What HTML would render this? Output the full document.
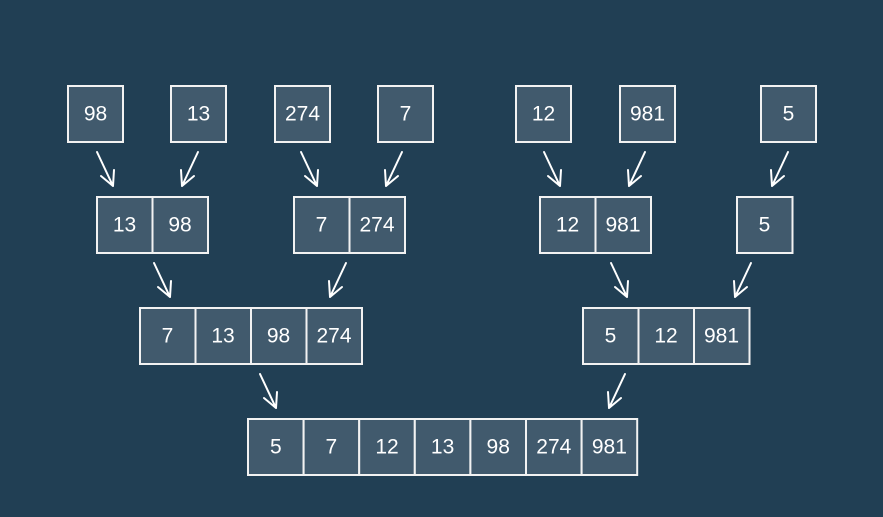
<!DOCTYPE html>
<html><head><meta charset="utf-8"><style>
html,body{margin:0;padding:0;background:#213f54;}
svg{display:block}
text{font-family:"Liberation Sans",sans-serif;font-size:21px;fill:#fff;text-anchor:middle;dominant-baseline:central}
rect{fill:#415a6d;stroke:#f2f2f2;stroke-width:2}
.a{stroke:#fff;stroke-width:2;fill:none;stroke-linecap:round;stroke-linejoin:round}
</style></head><body>
<svg width="883" height="517" viewBox="0 0 883 517" xmlns="http://www.w3.org/2000/svg">
<rect x="0" y="0" width="883" height="517" style="fill:#213f54;stroke:none"/>
<!-- level 1 -->
<g>
<rect x="68" y="86" width="55" height="56"/><text x="95.5" y="114">98</text>
<rect x="171" y="86" width="55" height="56"/><text x="198.5" y="114">13</text>
<rect x="275" y="86" width="55" height="56"/><text x="302.5" y="114">274</text>
<rect x="378" y="86" width="55" height="56"/><text x="405.5" y="114">7</text>
<rect x="516" y="86" width="55" height="56"/><text x="543.5" y="114">12</text>
<rect x="620" y="86" width="55" height="56"/><text x="647.5" y="114">981</text>
<rect x="761" y="86" width="55" height="56"/><text x="788.5" y="114">5</text>
</g>
<!-- level 2 -->
<g>
<rect x="97" y="197" width="55.5" height="56"/><text x="124.5" y="225">13</text>
<rect x="152.5" y="197" width="55.5" height="56"/><text x="180" y="225">98</text>
<rect x="294" y="197" width="55.5" height="56"/><text x="321.5" y="225">7</text>
<rect x="349.5" y="197" width="55.5" height="56"/><text x="377" y="225">274</text>
<rect x="540" y="197" width="55.5" height="56"/><text x="567.5" y="225">12</text>
<rect x="595.5" y="197" width="55.5" height="56"/><text x="623" y="225">981</text>
<rect x="737" y="197" width="55.5" height="56"/><text x="764.5" y="225">5</text>
</g>
<!-- level 3 -->
<g>
<rect x="140" y="308" width="55.5" height="56"/><text x="167.5" y="336">7</text>
<rect x="195.5" y="308" width="55.5" height="56"/><text x="223" y="336">13</text>
<rect x="251" y="308" width="55.5" height="56"/><text x="278.5" y="336">98</text>
<rect x="306.5" y="308" width="55.5" height="56"/><text x="334" y="336">274</text>
<rect x="583" y="308" width="55.5" height="56"/><text x="610.5" y="336">5</text>
<rect x="638.5" y="308" width="55.5" height="56"/><text x="666" y="336">12</text>
<rect x="694" y="308" width="55.5" height="56"/><text x="721.5" y="336">981</text>
</g>
<!-- level 4 -->
<g>
<rect x="248" y="419" width="55.6" height="56"/><text x="275.8" y="447">5</text>
<rect x="303.6" y="419" width="55.6" height="56"/><text x="331.4" y="447">7</text>
<rect x="359.2" y="419" width="55.6" height="56"/><text x="387" y="447">12</text>
<rect x="414.8" y="419" width="55.6" height="56"/><text x="442.6" y="447">13</text>
<rect x="470.4" y="419" width="55.6" height="56"/><text x="498.2" y="447">98</text>
<rect x="526" y="419" width="55.6" height="56"/><text x="553.8" y="447">274</text>
<rect x="581.6" y="419" width="55.6" height="56"/><text x="609.4" y="447">981</text>
</g>
<!-- arrows: down-right -->
<g class="a">
<path d="M97 152 L113 186 M101 176 L113 186 L114 170"/>
<path d="M301 152 L317 186 M305 176 L317 186 L318 170"/>
<path d="M544 152 L560 186 M548 176 L560 186 L561 170"/>
<path d="M154 263 L170 297 M158 287 L170 297 L171 281"/>
<path d="M611 263 L627 297 M615 287 L627 297 L628 281"/>
<path d="M260 374 L276 408 M264 398 L276 408 L277 392"/>
</g>
<!-- arrows: down-left -->
<g class="a">
<path d="M198 152 L182 186 M194 176 L182 186 L181 170"/>
<path d="M402 152 L386 186 M398 176 L386 186 L385 170"/>
<path d="M645 152 L629 186 M641 176 L629 186 L628 170"/>
<path d="M788 152 L772 186 M784 176 L772 186 L771 170"/>
<path d="M346 263 L330 297 M342 287 L330 297 L329 281"/>
<path d="M751 263 L735 297 M747 287 L735 297 L734 281"/>
<path d="M625 374 L609 408 M621 398 L609 408 L608 392"/>
</g>
</svg>
</body></html>
